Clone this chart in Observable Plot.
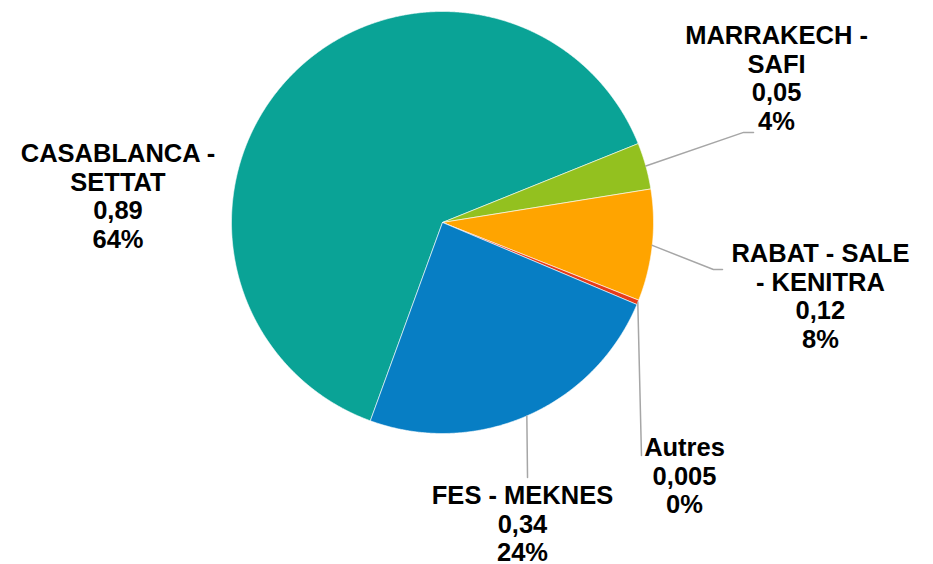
<!DOCTYPE html>
<html>
<head>
<meta charset="utf-8">
<script src="https://cdn.jsdelivr.net/npm/d3@7"></script>
<script src="https://cdn.jsdelivr.net/npm/@observablehq/plot@0.6"></script>
<style>
  html, body { margin: 0; padding: 0; background: #ffffff; }
  #chart { width: 933px; height: 564px; }
</style>
</head>
<body>
<div id="chart"></div>
<script>
// ---- data ----
const regions = ["CASABLANCA - SETTAT", "MARRAKECH - SAFI", "RABAT - SALE - KENITRA", "Autres", "FES - MEKNES"];
const regionLabels = ["CASABLANCA -\nSETTAT", "MARRAKECH -\nSAFI", "RABAT - SALE\n- KENITRA", "Autres", "FES - MEKNES"];
const values = [0.89, 0.05, 0.12, 0.005, 0.34];
const valueLabels = ["0,89", "0,05", "0,12", "0,005", "0,34"];
const percentLabels = ["64%", "4%", "8%", "0%", "24%"];
const colors = ["#0aa396", "#93c11f", "#ffa400", "#e63c1a", "#077ec4"];

// ---- layout (in pie-radius units, centre = 0,0) ----
const labelAnchors = [[-1.538, 0.384], [1.583, 0.943], [1.791, -0.090], [1.147, -1.0095], [0.379, -1.237]];
const leaderBends = [null, [[1.427, 0.427], [1.474, 0.427]], [[1.284, -0.223], [1.327, -0.223]], [[0.943, -1.104]], [[0.403, -1.209]]];
const startDeg = 200;

// ---- build slices ----
const arcs = d3.pie().sort(null).startAngle(startDeg * Math.PI / 180).endAngle((startDeg + 360) * Math.PI / 180)(values);
const slicePts = [];
arcs.forEach((a, i) => {
  slicePts.push({region: regions[i], x: 0, y: 0});
  const n = Math.max(2, Math.ceil((a.endAngle - a.startAngle) / (Math.PI / 720)));
  for (let k = 0; k <= n; k++) {
    const t = a.startAngle + (a.endAngle - a.startAngle) * k / n;
    slicePts.push({region: regions[i], x: Math.sin(t), y: Math.cos(t)});
  }
  slicePts.push({region: regions[i], x: 0, y: 0});
});

const leaderPts = [];
arcs.forEach((a, i) => {
  if (!leaderBends[i]) return;
  const m = (a.startAngle + a.endAngle) / 2;
  leaderPts.push({id: i, x: Math.sin(m), y: Math.cos(m)});
  leaderBends[i].forEach(([x, y]) => leaderPts.push({id: i, x, y}));
});

const labels = regions.map((r, i) => ({
  text: `${regionLabels[i]}\n${valueLabels[i]}\n${percentLabels[i]}`,
  x: labelAnchors[i][0],
  y: labelAnchors[i][1]
}));

const chart = Plot.plot({
  width: 933,
  height: 564,
  margin: 0,
  x: {domain: [-1, 1], range: [231, 653], axis: null},
  y: {domain: [-1, 1], range: [433, 11], axis: null},
  color: {domain: regions, range: colors},
  style: {background: "#ffffff", fontFamily: "'Liberation Sans', Arial, sans-serif"},
  marks: [
    Plot.line(slicePts, {x: "x", y: "y", z: "region", fill: "region", stroke: "#ffffff", strokeWidth: 0.6, curve: "linear"}),
    Plot.line(leaderPts, {x: "x", y: "y", z: "id", stroke: "#a6a6a6", strokeWidth: 1.5}),
    Plot.text(labels, {x: "x", y: "y", text: "text", lineAnchor: "top", textAnchor: "middle", lineHeight: 1.125, fontSize: 25.5, fontWeight: "bold", fill: "#000000"})
  ]
});
document.getElementById("chart").appendChild(chart);
</script>
</body>
</html>
